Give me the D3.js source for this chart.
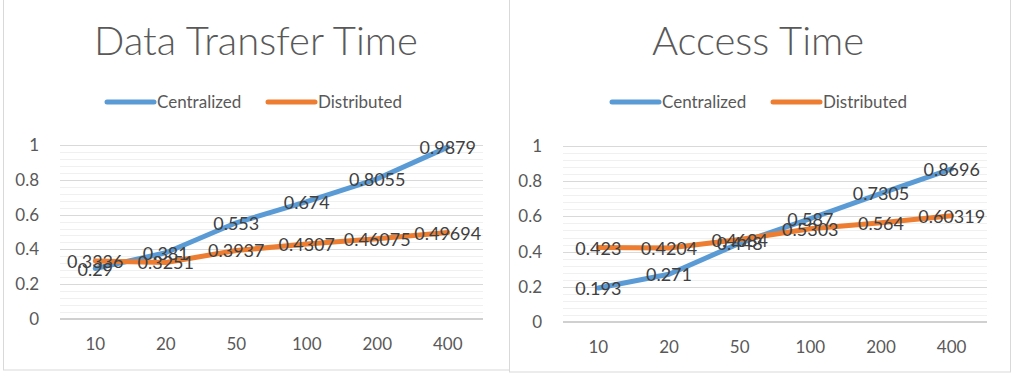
<!DOCTYPE html>
<html>
<head>
<meta charset="utf-8">
<script src="https://cdn.jsdelivr.net/npm/d3@7"></script>
<style>
  body { margin: 0; background: #fff; }
  svg { display: block; font-family: Lato, "Open Sans", sans-serif; }
</style>
</head>
<body>
<svg id="chart" width="1014" height="375"></svg>
<script>
// categories on the x axis
var sizes = ["10", "20", "50", "100", "200", "400"]
var seriesNames = ["Centralized", "Distributed"]

// Data Transfer Time
var transferCentral = [0.29, 0.381, 0.553, 0.674, 0.8055, 0.9879]
var transferDistrib = [0.3336, 0.3251, 0.3937, 0.4307, 0.46075, 0.49694]

// Access Time
var accessCentral = [0.193, 0.271, 0.448, 0.587, 0.7305, 0.8696]
var accessDistrib = [0.423, 0.4204, 0.4684, 0.5303, 0.564, 0.60319]

var yTicks = [0, 0.2, 0.4, 0.6, 0.8, 1]

var colors = ["#5B9BD5", "#ED7D31"]

var svg = d3.select("#chart")

function drawChart(opt) {
    var g = svg.append("g")

    // panel frame
    g.append("rect")
        .attr("x", opt.box[0] + 0.5).attr("y", -1)
        .attr("width", opt.box[1] - opt.box[0]).attr("height", opt.box[2] + 1)
        .attr("fill", "#fff").attr("stroke", "#d9d9d9")

    var xScale = d3.scaleBand()
        .domain(sizes)
        .range([opt.left, opt.right])

    var yScale = d3.scaleLinear()
        .domain([0, 1])
        .range([opt.bottom, opt.top])

    // minor gridlines every 0.04
    var minor = d3.range(0, 1.0001, 0.04).filter(v => Math.abs(v * 5 - Math.round(v * 5)) > 0.01)
    g.selectAll(".minor").data(minor).enter().append("line")
        .attr("x1", opt.left).attr("x2", opt.right)
        .attr("y1", d => Math.round(yScale(d)) + 0.5).attr("y2", d => Math.round(yScale(d)) + 0.5)
        .attr("stroke", "#f0f0f0").attr("stroke-width", 1)

    // major gridlines
    g.selectAll(".major").data(yTicks.slice(1)).enter().append("line")
        .attr("x1", opt.left).attr("x2", opt.right)
        .attr("y1", d => Math.round(yScale(d)) + 0.5).attr("y2", d => Math.round(yScale(d)) + 0.5)
        .attr("stroke", "#d9d9d9").attr("stroke-width", 1)

    // x axis baseline
    g.append("line")
        .attr("x1", opt.left).attr("x2", opt.right)
        .attr("y1", yScale(0)).attr("y2", yScale(0))
        .attr("stroke", "#d0d0d0").attr("stroke-width", 2)

    // y tick labels
    var yAxis = g.append("g")
        .attr("transform", `translate(${opt.left - 18},0)`)
        .call(d3.axisLeft(yScale).tickValues(yTicks).tickFormat(d3.format("")).tickSize(0))
    yAxis.select(".domain").remove()
    yAxis.selectAll("text")
        .attr("fill", "#595959").style("font-size", "17px")
        .style("font-family", "Lato, sans-serif")

    // x tick labels
    var xAxis = g.append("g")
        .attr("transform", `translate(0,${opt.bottom + 16})`)
        .call(d3.axisBottom(xScale).tickSize(0))
    xAxis.select(".domain").remove()
    xAxis.selectAll("text")
        .attr("fill", "#595959").style("font-size", "17px")
        .style("font-family", "Lato, sans-serif")

    var line = d3.line()
        .x((d, i) => xScale(sizes[i]) + xScale.bandwidth() / 2)
        .y(d => yScale(d))

    opt.series.forEach(function(vals, k) {
        g.append("path")
            .datum(vals)
            .attr("fill", "none")
            .attr("stroke", colors[k])
            .attr("stroke-width", 5)
            .attr("stroke-linejoin", "round")
            .attr("stroke-linecap", "round")
            .attr("d", line)
    })

    // data labels, centered on the points
    opt.series.forEach(function(vals, k) {
        g.selectAll(".lbl" + k).data(vals).enter().append("text")
            .attr("x", (d, i) => xScale(sizes[i]) + xScale.bandwidth() / 2)
            .attr("y", d => yScale(d) + 7)
            .attr("text-anchor", "middle")
            .attr("fill", "#404040")
            .style("font-size", "18px")
            .text(d => d)
    })

    // title
    g.append("text")
        .attr("x", opt.titleX).attr("y", 55)
        .attr("text-anchor", "middle")
        .attr("fill", "#595959")
        .style("font-size", "40px").style("font-weight", 300)
        .text(opt.title)

    // legend
    opt.legendX.forEach(function(lx, k) {
        g.append("line")
            .attr("x1", lx).attr("x2", lx + 47)
            .attr("y1", 102).attr("y2", 102)
            .attr("stroke", colors[k]).attr("stroke-width", 5)
            .attr("stroke-linecap", "round")
        g.append("text")
            .attr("x", lx + 50).attr("y", 108)
            .attr("fill", "#595959")
            .style("font-size", "17px")
            .text(seriesNames[k])
    })
}

drawChart({
    title: "Data Transfer Time",
    titleX: 256,
    box: [3, 509, 370],
    left: 60, right: 483, top: 145, bottom: 319,
    legendX: [107, 268],
    series: [transferCentral, transferDistrib]
})

drawChart({
    title: "Access Time",
    titleX: 758,
    box: [509, 1010, 372],
    left: 563, right: 987, top: 146, bottom: 322,
    legendX: [612, 773],
    series: [accessCentral, accessDistrib]
})
</script>
</body>
</html>
